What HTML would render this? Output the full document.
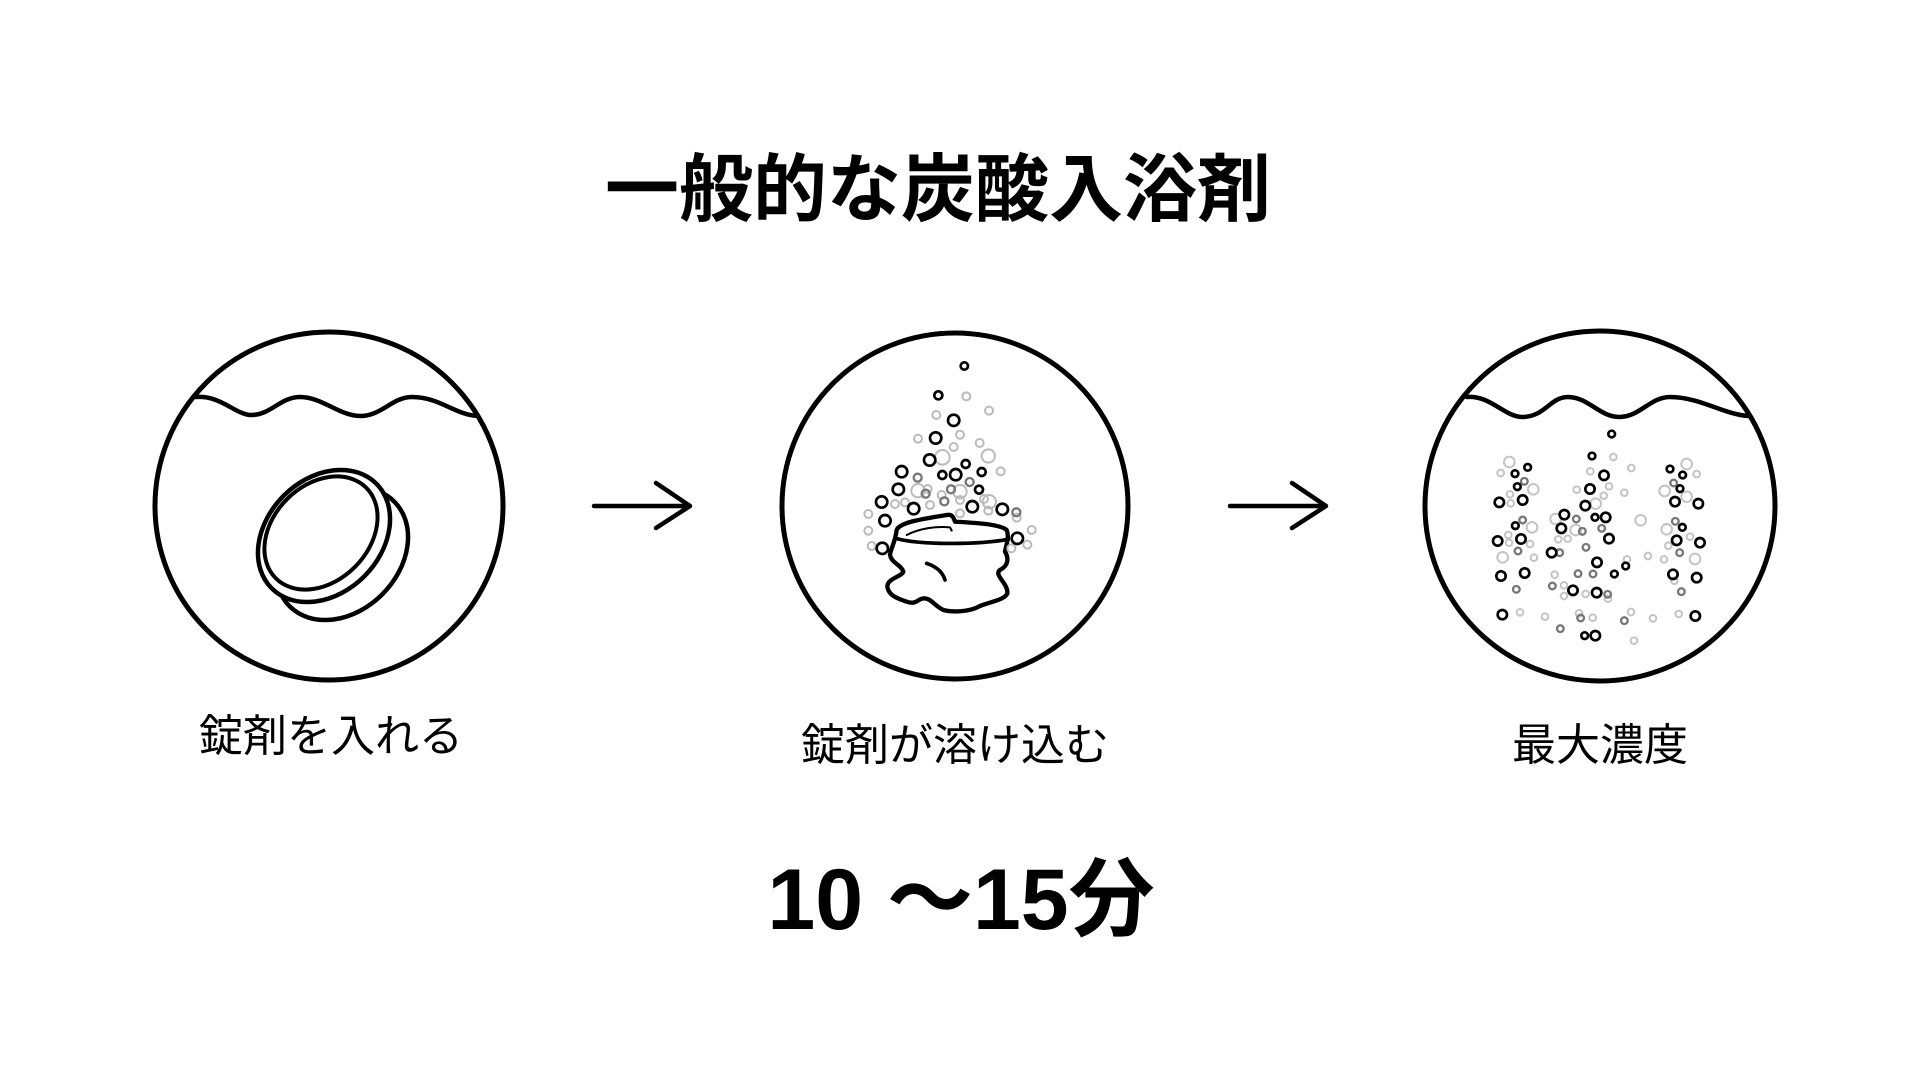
<!DOCTYPE html>
<html><head><meta charset="utf-8"><style>
html,body{margin:0;padding:0;background:#fff;}
body{width:1920px;height:1080px;position:relative;overflow:hidden;font-family:"Liberation Sans","Noto Sans CJK JP",sans-serif;color:#000;}
.t{position:absolute;white-space:nowrap;transform:translate(-50%,-50%);line-height:1;}
svg{position:absolute;left:0;top:0;}
</style></head><body>
<svg width="1920" height="1080" viewBox="0 0 1920 1080" fill="none" stroke="#000" stroke-linecap="round" stroke-linejoin="round">
 <circle cx="329" cy="506" r="174" stroke-width="5"/>
 <circle cx="955" cy="506" r="173" stroke-width="5"/>
 <circle cx="1600" cy="506" r="175" stroke-width="5"/>
 <path d="M196 397 C220 395 235 414 250 415 C270 416 280 397 300 397 C322 397 340 416 360 416 C382 416 392 397 412 397 C440 397 455 415 478 416" stroke-width="4.5"/>
 <path d="M1467 397 C1490 395 1505 417 1522 417 C1545 417 1550 397 1568 397 C1588 397 1600 417 1619 417 C1640 417 1650 397 1670 397 C1700 397 1725 415 1749 416" stroke-width="4.5"/>
 <path d="M594 506 H689 M656 483 L690 506 L656 528" stroke-width="4.5"/>
 <path d="M1230 506 H1325 M1292 483 L1326 506 L1292 528" stroke-width="4.5"/>
 <ellipse cx="342" cy="554" rx="74" ry="57" transform="rotate(-45 342 554)" stroke-width="4.5" fill="#fff"/>
 <ellipse cx="324" cy="536" rx="74" ry="57" transform="rotate(-45 324 536)" stroke-width="4.5" fill="#fff"/>
 <ellipse cx="321" cy="533" rx="64" ry="48" transform="rotate(-45 321 533)" stroke-width="4"/>
 <g transform="translate(760 300) scale(0.33333)">
  <path d="M410 690 C420 665 500 655 560 645 C575 642 580 650 585 665 C640 668 720 672 740 690 C748 710 740 730 735 755 C750 780 740 800 720 810 C700 825 745 850 742 880 C735 900 690 905 660 918 C630 935 580 938 550 930 C520 915 515 895 490 895 C470 898 470 915 440 905 C410 895 385 885 382 860 C382 835 425 830 430 815 C425 795 395 790 390 765 C392 745 405 730 410 690 Z" stroke-width="13"/>
  <path d="M407 715 C480 735 650 735 745 718" stroke-width="11"/>
  <path d="M440 705 C480 685 530 678 570 682 C575 690 575 695 575 690" stroke-width="6"/>
  <path d="M500 790 C530 800 548 815 555 840" stroke-width="11"/>
  <g stroke="#bbb" stroke-width="6">
   <circle cx="619" cy="289" r="12"/><circle cx="687" cy="332" r="12"/><circle cx="529" cy="345" r="12"/><circle cx="600" cy="404" r="12"/><circle cx="474" cy="416" r="12"/><circle cx="659" cy="429" r="12"/><circle cx="581" cy="441" r="12"/><circle cx="547" cy="472" r="22"/><circle cx="685" cy="468" r="20"/><circle cx="722" cy="514" r="12"/><circle cx="474" cy="572" r="20"/><circle cx="600" cy="575" r="20"/><circle cx="503" cy="567" r="12"/><circle cx="435" cy="607" r="12"/><circle cx="405" cy="612" r="12"/><circle cx="510" cy="615" r="12"/><circle cx="545" cy="585" r="12"/><circle cx="600" cy="600" r="12"/><circle cx="688" cy="605" r="20"/><circle cx="672" cy="597" r="12"/><circle cx="685" cy="632" r="12"/><circle cx="600" cy="640" r="12"/><circle cx="325" cy="642" r="12"/><circle cx="325" cy="692" r="12"/><circle cx="815" cy="690" r="12"/><circle cx="335" cy="738" r="12"/><circle cx="802" cy="734" r="12"/><circle cx="754" cy="745" r="12"/><circle cx="770" cy="653" r="12"/>
  </g>
  <g stroke="#777" stroke-width="7">
   <circle cx="473" cy="533" r="12"/><circle cx="497" cy="581" r="12"/><circle cx="573" cy="568" r="12"/><circle cx="553" cy="604" r="12"/><circle cx="629" cy="546" r="12"/><circle cx="769" cy="637" r="12"/>
  </g>
  <g stroke="#000" stroke-width="8">
   <circle cx="613" cy="198" r="11"/><circle cx="535" cy="286" r="12"/><circle cx="581" cy="361" r="17"/><circle cx="527" cy="414" r="17"/><circle cx="509" cy="480" r="17"/><circle cx="425" cy="515" r="17"/><circle cx="617" cy="492" r="12"/><circle cx="547" cy="525" r="12"/><circle cx="587" cy="524" r="17"/><circle cx="665" cy="516" r="12"/><circle cx="415" cy="568" r="17"/><circle cx="657" cy="569" r="12"/><circle cx="365" cy="606" r="17"/><circle cx="461" cy="626" r="17"/><circle cx="637" cy="620" r="17"/><circle cx="727" cy="628" r="17"/><circle cx="375" cy="662" r="17"/><circle cx="772" cy="715" r="17"/><circle cx="367" cy="745" r="17"/>
  </g>
 </g>
 <g transform="translate(1410 320) scale(0.33333)">
  <g stroke="#c4c4c4" stroke-width="6">
   <circle cx="298" cy="426" r="16"/><circle cx="272" cy="459" r="10"/><circle cx="370" cy="508" r="16"/><circle cx="300" cy="523" r="10"/><circle cx="302" cy="550" r="10"/><circle cx="366" cy="622" r="16"/><circle cx="295" cy="645" r="10"/><circle cx="297" cy="668" r="10"/><circle cx="360" cy="672" r="10"/><circle cx="278" cy="712" r="16"/><circle cx="372" cy="713" r="10"/><circle cx="541" cy="454" r="10"/><circle cx="610" cy="411" r="10"/><circle cx="664" cy="444" r="10"/><circle cx="597" cy="499" r="10"/><circle cx="500" cy="509" r="10"/><circle cx="581" cy="527" r="10"/><circle cx="643" cy="518" r="10"/><circle cx="557" cy="551" r="16"/><circle cx="437" cy="597" r="16"/><circle cx="497" cy="630" r="16"/><circle cx="445" cy="658" r="10"/><circle cx="473" cy="656" r="10"/><circle cx="692" cy="601" r="16"/><circle cx="651" cy="718" r="10"/><circle cx="714" cy="708" r="10"/><circle cx="762" cy="718" r="10"/><circle cx="434" cy="764" r="10"/><circle cx="462" cy="796" r="10"/><circle cx="462" cy="828" r="10"/><circle cx="527" cy="822" r="10"/><circle cx="330" cy="877" r="10"/><circle cx="405" cy="890" r="10"/><circle cx="507" cy="880" r="10"/><circle cx="548" cy="893" r="10"/><circle cx="663" cy="876" r="10"/><circle cx="729" cy="895" r="10"/><circle cx="672" cy="962" r="10"/><circle cx="806" cy="882" r="10"/><circle cx="830" cy="432" r="16"/><circle cx="860" cy="462" r="10"/><circle cx="764" cy="513" r="16"/><circle cx="830" cy="530" r="16"/><circle cx="770" cy="628" r="16"/><circle cx="775" cy="677" r="10"/><circle cx="840" cy="650" r="10"/><circle cx="855" cy="717" r="16"/><circle cx="793" cy="782" r="10"/><circle cx="594" cy="836" r="10"/>
  </g>
  <g stroke="#777" stroke-width="7">
   <circle cx="343" cy="484" r="10"/><circle cx="338" cy="600" r="10"/><circle cx="324" cy="693" r="10"/><circle cx="319" cy="808" r="10"/><circle cx="499" cy="597" r="10"/><circle cx="517" cy="634" r="10"/><circle cx="575" cy="625" r="10"/><circle cx="528" cy="682" r="10"/><circle cx="449" cy="698" r="10"/><circle cx="504" cy="761" r="10"/><circle cx="549" cy="762" r="10"/><circle cx="427" cy="798" r="10"/><circle cx="593" cy="823" r="10"/><circle cx="512" cy="894" r="10"/><circle cx="451" cy="926" r="10"/><circle cx="643" cy="902" r="10"/><circle cx="791" cy="489" r="10"/><circle cx="796" cy="604" r="10"/><circle cx="809" cy="698" r="10"/><circle cx="814" cy="815" r="10"/>
  </g>
  <g stroke="#000" stroke-width="8">
   <circle cx="605" cy="342" r="10"/><circle cx="546" cy="408" r="10"/><circle cx="315" cy="461" r="10"/><circle cx="353" cy="442" r="10"/><circle cx="322" cy="500" r="10"/><circle cx="268" cy="547" r="14"/><circle cx="338" cy="540" r="14"/><circle cx="582" cy="466" r="14"/><circle cx="540" cy="507" r="14"/><circle cx="526" cy="557" r="14"/><circle cx="463" cy="584" r="14"/><circle cx="555" cy="592" r="10"/><circle cx="587" cy="592" r="14"/><circle cx="454" cy="625" r="14"/><circle cx="316" cy="617" r="10"/><circle cx="333" cy="657" r="14"/><circle cx="263" cy="663" r="14"/><circle cx="597" cy="656" r="14"/><circle cx="425" cy="698" r="14"/><circle cx="561" cy="727" r="14"/><circle cx="647" cy="738" r="10"/><circle cx="273" cy="768" r="14"/><circle cx="344" cy="759" r="14"/><circle cx="613" cy="762" r="10"/><circle cx="489" cy="811" r="14"/><circle cx="560" cy="818" r="14"/><circle cx="277" cy="884" r="14"/><circle cx="524" cy="947" r="10"/><circle cx="556" cy="947" r="14"/><circle cx="780" cy="447" r="10"/><circle cx="818" cy="465" r="10"/><circle cx="810" cy="506" r="10"/><circle cx="795" cy="545" r="14"/><circle cx="865" cy="551" r="14"/><circle cx="817" cy="622" r="10"/><circle cx="800" cy="661" r="14"/><circle cx="870" cy="668" r="14"/><circle cx="789" cy="763" r="14"/><circle cx="860" cy="773" r="14"/><circle cx="856" cy="888" r="14"/>
  </g>
 </g>
</svg>
<div class="t" style="left:938px;top:190px;font-size:74px;font-weight:bold;">一般的な炭酸入浴剤</div>
<div class="t" style="left:331px;top:737px;font-size:44px;">錠剤を入れる</div>
<div class="t" style="left:955px;top:746px;font-size:44px;">錠剤が溶け込む</div>
<div class="t" style="left:1600px;top:746px;font-size:44px;">最大濃度</div>
<div class="t" style="left:961px;top:900px;font-size:86px;font-weight:bold;">10 ～15分</div>
</body></html>
